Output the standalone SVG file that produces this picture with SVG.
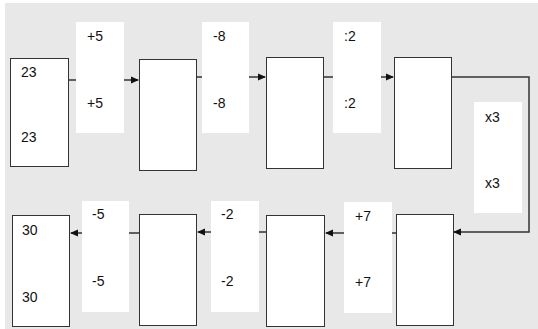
<svg xmlns="http://www.w3.org/2000/svg" width="538" height="329" viewBox="0 0 538 329">
<defs>
<marker id="ah" markerWidth="8" markerHeight="8" refX="7" refY="4" orient="auto" markerUnits="userSpaceOnUse">
<path d="M0,0.5 L8,4 L0,7.5 Z" fill="#111"/>
</marker>
<style>
.box{fill:#fff;stroke:#333;stroke-width:1}
.lbl{fill:#fff;stroke:none}
.t{font-family:"Liberation Sans",Arial,sans-serif;font-size:14px;fill:#111}
.c{fill:none;stroke:#333;stroke-width:1.5}
</style>
</defs>
<rect x="5" y="3" width="533" height="326" fill="#e8e8e8"/>
<g id="connectors">
<path class="c" d="M69,80 H138" marker-end="url(#ah)"/>
<path class="c" d="M197,77 H265" marker-end="url(#ah)"/>
<path class="c" d="M324,77 H393" marker-end="url(#ah)"/>
<path class="c" d="M451,77 H529 V232 H454" marker-end="url(#ah)"/>
<path class="c" d="M396,233 H326" marker-end="url(#ah)"/>
<path class="c" d="M266,232 H198" marker-end="url(#ah)"/>
<path class="c" d="M139,233 H71" marker-end="url(#ah)"/>
</g>
<g id="op1"><rect class="lbl" x="76" y="22" width="48" height="111"/><text class="t" x="87" y="41">+5</text><text class="t" x="87" y="108">+5</text></g>
<g id="op2"><rect class="lbl" x="202" y="22" width="47" height="111"/><text class="t" x="213" y="41">-8</text><text class="t" x="213" y="108">-8</text></g>
<g id="op3"><rect class="lbl" x="333" y="22" width="48" height="111"/><text class="t" x="344" y="41">:2</text><text class="t" x="344" y="108">:2</text></g>
<g id="op4"><rect class="lbl" x="474" y="102" width="48" height="111"/><text class="t" x="485" y="122">x3</text><text class="t" x="485" y="188">x3</text></g>
<g id="op5"><rect class="lbl" x="344" y="202" width="48" height="111"/><text class="t" x="355" y="221">+7</text><text class="t" x="355" y="287">+7</text></g>
<g id="op6"><rect class="lbl" x="211" y="201" width="48" height="111"/><text class="t" x="221" y="219">-2</text><text class="t" x="221" y="286">-2</text></g>
<g id="op7"><rect class="lbl" x="82" y="201" width="47" height="111"/><text class="t" x="92" y="219">-5</text><text class="t" x="92" y="286">-5</text></g>
<g id="n1"><rect class="box" x="10.5" y="58.5" width="58" height="108"/><text class="t" x="21" y="77">23</text><text class="t" x="21" y="142">23</text></g>
<g id="n2"><rect class="box" x="139.5" y="59.5" width="57" height="111"/></g>
<g id="n3"><rect class="box" x="266.5" y="57.5" width="57" height="111"/></g>
<g id="n4"><rect class="box" x="394.5" y="57.5" width="57" height="111"/></g>
<g id="n5"><rect class="box" x="396.5" y="214.5" width="57" height="111"/></g>
<g id="n6"><rect class="box" x="266.5" y="215.5" width="58" height="111"/></g>
<g id="n7"><rect class="box" x="139.5" y="214.5" width="57" height="111"/></g>
<g id="n8"><rect class="box" x="12.5" y="215.5" width="57" height="111"/><text class="t" x="22" y="235">30</text><text class="t" x="22" y="302">30</text></g>
</svg>
